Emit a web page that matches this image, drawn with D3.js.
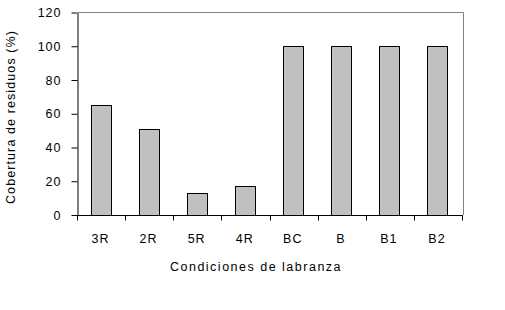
<!DOCTYPE html>
<html>
<head>
<meta charset="utf-8">
<script src="https://cdn.jsdelivr.net/npm/d3@7"></script>
<style>
body { margin: 0; background: #fff; }
text { font-family: Arial, "Liberation Sans", sans-serif; }
</style>
</head>
<body>
<script>
// data
var condiciones = ["3R", "2R", "5R", "4R", "BC", "B", "B1", "B2"];
var cobertura = [65, 51, 13, 17, 100, 100, 100, 100];
var yTicks = [0, 20, 40, 60, 80, 100, 120];

var W = 505, H = 310;
var mLeft = 78, mRight = 463, mTop = 12.5, mBottom = 215;

var svg = d3.select("body").append("svg").attr("width", W).attr("height", H);

var x = d3.scaleBand().domain(condiciones).range([mLeft, mRight])
    .paddingInner(0.59).paddingOuter(0.3).align(0.44);
var y = d3.scaleLinear().domain([0, 120]).range([mBottom, mTop]);

// gray frame on top and right
svg.append("path")
    .attr("d", "M" + mLeft + "," + mTop + "H" + (mRight + 0.5) + "V" + mBottom)
    .attr("fill", "none").attr("stroke", "#808080").attr("stroke-width", 1);

// bars
svg.selectAll("rect.bar").data(cobertura).enter().append("rect")
    .attr("class", "bar")
    .attr("x", function(d, i){ return Math.round(x(condiciones[i])) + 0.5; })
    .attr("y", function(d){ return Math.round(y(d)) + 0.5; })
    .attr("width", Math.round(x.bandwidth()))
    .attr("height", function(d){ return Math.round(mBottom) - Math.round(y(d)); })
    .style("fill", "#c0c0c0").style("stroke", "#000").style("stroke-width", 1);

// y axis
var yAxis = svg.append("g").attr("transform", "translate(" + (mLeft - 0.5) + ",0)")
    .call(d3.axisLeft(y).tickValues(yTicks).tickSize(6).tickPadding(10).tickSizeOuter(0));
yAxis.select(".domain").attr("stroke", "#000");
yAxis.selectAll(".tick line").attr("stroke", "#000");
yAxis.selectAll("text").style("font-size", "12.5px").style("letter-spacing", "1px").attr("fill", "#000");

// x axis: ticks on category boundaries
var xAxis = svg.append("g").attr("transform", "translate(0," + (mBottom + 0.5) + ")");
xAxis.append("line").attr("x1", mLeft - 6).attr("x2", mRight).attr("stroke", "#000");
var bounds = d3.range(condiciones.length + 1).map(function(i){ return mLeft + i * (mRight - mLeft) / condiciones.length; });
xAxis.selectAll("line.tick").data(bounds).enter().append("line")
    .attr("class", "tick")
    .attr("x1", function(d){ return Math.round(d) - 0.5; })
    .attr("x2", function(d){ return Math.round(d) - 0.5; })
    .attr("y1", 0).attr("y2", 5).attr("stroke", "#000");
xAxis.selectAll("text").data(condiciones).enter().append("text")
    .attr("x", function(d){ return x(d) + x.bandwidth() / 2; })
    .attr("y", 27)
    .attr("text-anchor", "middle")
    .style("font-size", "12.5px").style("letter-spacing", "1px")
    .text(function(d){ return d; });

// axis titles
svg.append("text").attr("x", 256).attr("y", 271).attr("text-anchor", "middle")
    .style("font-size", "12.5px").style("letter-spacing", "1.5px").text("Condiciones de labranza");
svg.append("text").attr("transform", "translate(15,117) rotate(-90)").attr("text-anchor", "middle")
    .style("font-size", "12.5px").style("letter-spacing", "1.1px").text("Cobertura de residuos (%)");
</script>
</body>
</html>
